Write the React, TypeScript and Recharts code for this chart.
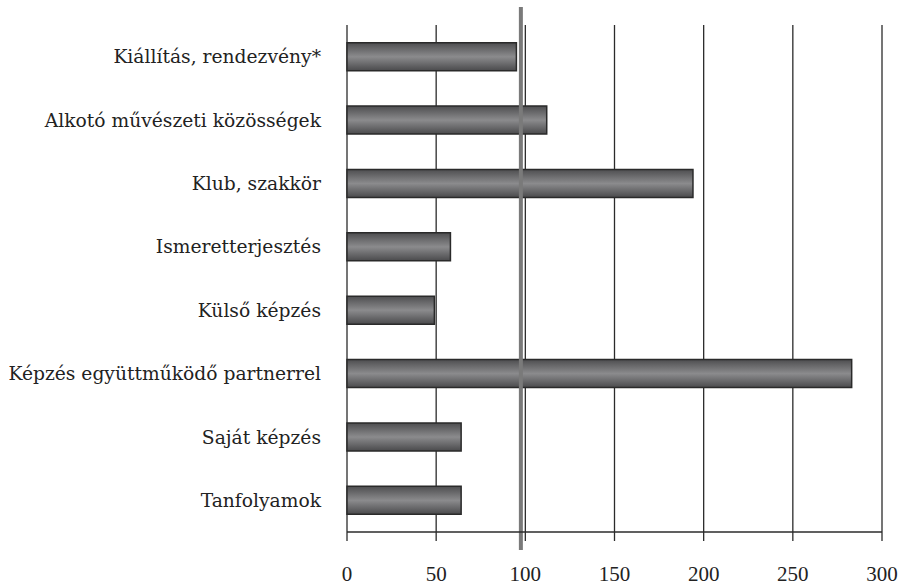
import React from 'react';
import { BarChart, Bar, XAxis, YAxis, CartesianGrid, ReferenceLine } from 'recharts';

const categories = [
  'Kiállítás, rendezvény*',
  'Alkotó művészeti közösségek',
  'Klub, szakkör',
  'Ismeretterjesztés',
  'Külső képzés',
  'Képzés együttműködő partnerrel',
  'Saját képzés',
  'Tanfolyamok',
];
const values = [95, 112, 194, 58, 49, 283, 64, 64];
const xTicks = [0, 50, 100, 150, 200, 250, 300];
const boundaryTicks = [0, 1, 2, 3, 4, 5, 6, 7, 8];
const referenceValue = 97.5;

const data = categories.map((name, i) => ({ name, value: values[i] }));

const LABEL_FONT = '"DejaVu Serif", serif';
const TICK_FONT = '"Liberation Serif", serif';
const INK = '#2b2b2b';

const RefShape = (props: any) => {
  const { x1, y1, x2, y2 } = props;
  return (
    <line x1={x1} y1={Math.min(y1, y2) - 18} x2={x2} y2={Math.max(y1, y2) + 18} stroke="#7a7a7a" strokeWidth={4} />
  );
};

export default function App() {
  return (
    <div style={{ position: 'absolute', left: 0, top: 0, width: 900, height: 586, background: '#fff' }}>
      <BarChart
        width={900}
        height={586}
        data={data}
        layout="vertical"
        margin={{ top: 25, right: 18, bottom: 0, left: 0 }}
        barCategoryGap="28%"
      >
        <defs>
          <linearGradient id="barGrad" x1="0" y1="0" x2="0" y2="1">
            <stop offset="0%" stopColor="#4e4e50" />
            <stop offset="50%" stopColor="#8b8b8d" />
            <stop offset="100%" stopColor="#4a4a4c" />
          </linearGradient>
        </defs>
        <CartesianGrid horizontal={false} vertical stroke={INK} strokeWidth={1.3} xAxisId="main" yAxisId="cat" />
        <XAxis
          xAxisId="main"
          type="number"
          domain={[0, 300]}
          ticks={xTicks}
          interval={0}
          tickSize={9}
          tickMargin={25}
          height={54}
          axisLine={{ stroke: INK, strokeWidth: 1.3 }}
          tickLine={{ stroke: INK, strokeWidth: 1.3 }}
          tick={{ fill: '#222', fontSize: 21, fontFamily: TICK_FONT }}
        />
        <XAxis
          xAxisId="top"
          orientation="top"
          type="number"
          domain={[0, 300]}
          height={0}
          tick={false}
          tickLine={false}
          axisLine={{ stroke: INK, strokeWidth: 1.3 }}
        />
        <YAxis
          yAxisId="num"
          type="number"
          domain={[0, 8]}
          ticks={boundaryTicks}
          interval={0}
          width={0}
          tick={false}
          tickSize={10}
          axisLine={{ stroke: INK, strokeWidth: 1.3 }}
          tickLine={{ stroke: INK, strokeWidth: 1.3 }}
        />
        <YAxis
          yAxisId="cat"
          type="category"
          dataKey="name"
          width={347}
          interval={0}
          axisLine={false}
          tickLine={false}
          tickSize={0}
          tickMargin={26}
          tick={{ fill: '#222', fontSize: 18.7, fontFamily: LABEL_FONT }}
        />
        <Bar
          dataKey="value"
          xAxisId="main"
          yAxisId="cat"
          fill="url(#barGrad)"
          stroke="#2a2a2a"
          strokeWidth={1.5}
          isAnimationActive={false}
        />
        <ReferenceLine
          x={referenceValue}
          xAxisId="main"
          yAxisId="cat"
          ifOverflow="visible"
          shape={RefShape}
        />
      </BarChart>
    </div>
  );
}
